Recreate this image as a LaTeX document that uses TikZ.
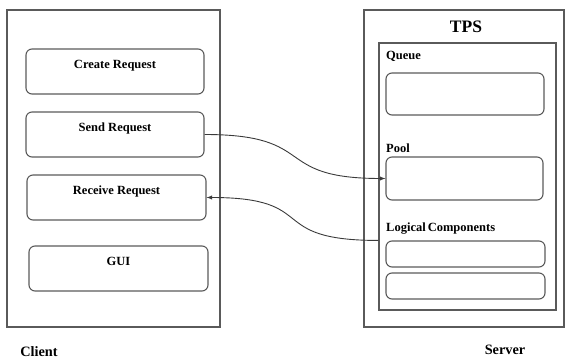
\documentclass[tikz,border=0pt]{standalone}
\usepackage{fontspec}
\setmainfont{Liberation Serif}
\usepackage{tikz}
\usetikzlibrary{shapes,positioning,fit}
\usepackage{xcolor}
\definecolor{boxgray}{HTML}{5A5A5A}
\definecolor{linegray}{HTML}{3A3A3A}

\begin{document}
\begin{tikzpicture}[x=1pt, y=-1pt,
        mycontainer/.style={draw=boxgray, line width=1.1pt, inner sep=0pt},
        reqbox/.style={draw=boxgray, line width=1.1pt, rounded corners=6pt, inner sep=0pt,
            font=\fontsize{12.5}{14}\selectfont\bfseries, text height=20pt, text depth=25pt},
        slot/.style={draw=boxgray, line width=1.1pt, rounded corners=6pt, inner sep=0pt},
        title/.style={draw=none, inner sep=0pt, font=\fontsize{12.5}{14}\selectfont\bfseries}
    ]

    %styles
    \tikzstyle{side}=[inner sep=0pt, font=\fontsize{14.3}{16}\selectfont\bfseries]
    \tikzstyle{commu}=[->,>=latex,draw=linegray,line width=0.9pt]

    \useasboundingbox (0,0) rectangle (566,363);

    %client
    \node[mycontainer, minimum width=213pt, minimum height=317pt] (client) at (113.5,168.5) {};
    \node[reqbox, minimum width=178pt] (create) at (115,71.5) {Create Request};
    \node[reqbox, minimum width=178pt] (send) at (115,134.5) {Send Request};
    \node[reqbox, minimum width=179pt] (receive) at (116.5,197.5) {Receive Request};
    \node[reqbox, minimum width=179pt] (gui) at (118.5,268.5) {GUI};
    \node[side] (clientlbl) at (39,352) {Client};

    %server
    \node[mycontainer, minimum width=200pt, minimum height=317pt] (server) at (464,168.5) {};
    \node[side, font=\fontsize{17.5}{19}\selectfont\bfseries] (tps) at (466,27) {TPS};
    \node[mycontainer, minimum width=177pt, minimum height=267pt] (inner) at (467.5,176.5) {};
    \node[title, anchor=west] (queuelbl) at (386,56) {Queue};
    \node[slot, minimum width=158pt, minimum height=42pt] (queue) at (465,94) {};
    \node[title, anchor=west] (poollbl) at (386,148) {Pool};
    \node[slot, minimum width=157pt, minimum height=43pt] (pool) at (464.5,178.5) {};
    \node[title, anchor=west] (lclbl) at (386,229) {Logical\hspace{2pt}Components};
    \node[slot, minimum width=159pt, minimum height=26pt] (lc1) at (465.5,254) {};
    \node[slot, minimum width=159pt, minimum height=26pt] (lc2) at (465.5,286) {};
    \node[side] (serverlbl) at (505,350) {Server};

    %arrows
    \coordinate (lcin) at (inner.west |- lc1.north);
    \draw[commu] (send.east) .. controls +(115,0) and +(-115,0) .. (pool.west);
    \draw[commu] (lcin) .. controls +(-115,0) and +(115,0) .. (receive.east);

\end{tikzpicture}
\end{document}
